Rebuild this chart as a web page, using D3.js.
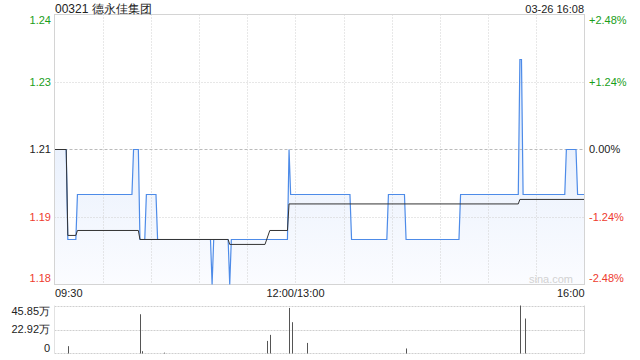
<!DOCTYPE html>
<meta charset="utf-8">
<style>
  body { margin: 0; background: #fff; }
  text { font-family: "Liberation Sans", Arial, sans-serif; }
</style>

<!-- Load d3.js -->
<script src="https://d3js.org/d3.v7.min.js"></script>

<!-- Create a div where the graph will take place -->
<div id="my_dataviz"></div>

<script>

  // ---- data ----
  var title = "00321 德永佳集团";
  var stamp = "03-26 16:08";
  var prevClose = 1.21;

  // price vertices, minute index from 09:30 (lunch break removed)
  var priceMin = [0, 7, 8, 13, 14, 48, 49, 52, 53, 56, 57, 63, 64, 97, 98, 99, 108, 109, 110,
                  145, 146, 147, 184, 185, 207, 208, 218, 219, 252, 253, 289, 290, 291, 292,
                  318, 319, 325, 326, 330];
  var priceVal = [1.21, 1.21, 1.19, 1.19, 1.20, 1.20, 1.21, 1.21, 1.19, 1.19, 1.20, 1.20, 1.19, 1.19, 1.18, 1.19, 1.19, 1.18, 1.19,
                  1.19, 1.21, 1.20, 1.20, 1.19, 1.19, 1.20, 1.20, 1.19, 1.19, 1.20, 1.20, 1.23, 1.23, 1.20,
                  1.20, 1.21, 1.21, 1.20, 1.20];

  // average price line
  var avgMin = [0, 7, 8, 13, 14, 52, 53, 108, 109, 131, 134, 145, 146, 289, 290, 330];
  var avgVal = [1.21, 1.21, 1.1909, 1.1909, 1.1920, 1.1920, 1.1900, 1.1900, 1.1889, 1.1889,
                1.1920, 1.1920, 1.1979, 1.1979, 1.1989, 1.1989];

  // volume bars
  var volMin = [8, 53, 54, 68, 132, 134, 146, 148, 157, 219, 290, 293];
  var volVal = [70000, 375000, 22000, 8000, 120000, 178000, 435000, 299000, 101000, 48000, 458500, 334000];

  // axis ticks
  var pctTicks = [2.48, 1.24, 0, -1.24, -2.48];
  var priceLabels = ["1.24", "1.23", "1.21", "1.19", "1.18"];
  var pctLabels = ["+2.48%", "+1.24%", "0.00%", "-1.24%", "-2.48%"];
  var timeTicks = [0, 150, 330];
  var timeLabels = ["09:30", "12:00/13:00", "16:00"];
  var volTicks = [458500, 229250, 0];
  var volLabels = ["45.85万", "22.92万", "0"];

  // ---- layout ----
  var W = 640, H = 360;
  var pLeft = 54.5, pRight = 584.5, pTop = 14.5, pBottom = 284.5;
  var vTop = 305.5, vBottom = 353.5;
  var green = "#1a9e1a", red = "#ee3b2e", ink = "#222";

  var svg = d3.select("#my_dataviz")
    .append("svg")
      .attr("width", W)
      .attr("height", H)

  var x = d3.scaleLinear().domain([0, 330]).range([55, 584])
  var y = d3.scaleLinear()
    .domain([prevClose * (1 - 0.0248), prevClose * (1 + 0.0248)])
    .range([pBottom, pTop])
  var yv = d3.scaleLinear().domain([0, 458500]).range([vBottom, vTop])

  function tickColor(p) { return p > 0 ? green : (p < 0 ? red : ink) }
  function crisp(v) { return Math.round(v) + 0.5 }

  // gradient for the area under the price line
  var grad = svg.append("defs").append("linearGradient")
    .attr("id", "fill").attr("gradientUnits", "userSpaceOnUse")
    .attr("x1", 0).attr("x2", 0).attr("y1", pTop).attr("y2", pBottom)
  grad.append("stop").attr("offset", "0%").attr("stop-color", "#d9e6fa")
  grad.append("stop").attr("offset", "100%").attr("stop-color", "#fbfcff")

  var pricePts = priceMin.map(function (m, i) { return [m, priceVal[i]] })
  var avgPts = avgMin.map(function (m, i) { return [m, avgVal[i]] })

  svg.append("path")
    .datum(pricePts)
    .attr("fill", "url(#fill)")
    .attr("d", d3.area()
      .x(function (d) { return x(d[0]) })
      .y0(pBottom)
      .y1(function (d) { return y(d[1]) }))

  // vertical grid (every 30 minutes)
  var grid = svg.append("g")
  d3.range(30, 330, 30).forEach(function (m) {
    grid.append("line")
      .attr("x1", crisp(x(m))).attr("x2", crisp(x(m)))
      .attr("y1", pTop).attr("y2", pBottom)
      .attr("stroke", "#d0d0d0").attr("stroke-dasharray", "1,2")
  })

  // horizontal grid
  pctTicks.slice(1, 4).forEach(function (p) {
    var yy = crisp(y(prevClose * (1 + p / 100)))
    grid.append("line")
      .attr("x1", pLeft).attr("x2", pRight)
      .attr("y1", yy).attr("y2", yy)
      .attr("stroke", p == 0 ? "#bbb" : "#cfcfcf").attr("stroke-dasharray", p == 0 ? "3,2" : "1,2")
  })

  // frame
  svg.append("rect")
    .attr("x", pLeft).attr("y", pTop)
    .attr("width", pRight - pLeft).attr("height", pBottom - pTop)
    .attr("fill", "none").attr("stroke", "#d4d4d4")

  // watermark
  svg.append("text")
    .attr("x", 573).attr("y", 283)
    .attr("text-anchor", "end")
    .attr("font-size", 11)
    .attr("fill", "#d2d2d2")
    .text("sina.com")

  // lines
  svg.append("path")
    .datum(pricePts)
    .attr("fill", "none")
    .attr("stroke", "#4d8be8")
    .attr("stroke-width", 1.2)
    .attr("d", d3.line().x(function (d) { return x(d[0]) }).y(function (d) { return y(d[1]) }))

  svg.append("path")
    .datum(avgPts)
    .attr("fill", "none")
    .attr("stroke", "#333")
    .attr("stroke-width", 1)
    .attr("d", d3.line().x(function (d) { return x(d[0]) }).y(function (d) { return y(d[1]) }))

  // price / percent labels
  pctTicks.forEach(function (p, i) {
    var yy = y(prevClose * (1 + p / 100))
    if (i == 0) yy += 6
    if (i == pctTicks.length - 1) yy -= 6
    svg.append("text")
      .attr("x", 51).attr("y", yy).attr("dy", "0.35em")
      .attr("text-anchor", "end").attr("font-size", 11)
      .attr("fill", tickColor(p))
      .text(priceLabels[i])
    svg.append("text")
      .attr("x", 589).attr("y", yy).attr("dy", "0.35em")
      .attr("font-size", 11)
      .attr("fill", tickColor(p))
      .text(pctLabels[i])
  })

  // time labels
  timeTicks.forEach(function (t, i) {
    svg.append("text")
      .attr("x", i == 0 ? 55 : (i == timeTicks.length - 1 ? 584.5 : x(t)))
      .attr("y", 293).attr("dy", "0.35em")
      .attr("text-anchor", i == 0 ? "start" : (i == timeTicks.length - 1 ? "end" : "middle"))
      .attr("font-size", 11).attr("fill", ink)
      .text(timeLabels[i])
  })

  // title + time stamp
  svg.append("text")
    .attr("x", 55).attr("y", 13)
    .attr("font-size", 12).attr("fill", ink)
    .text(title)
  svg.append("text")
    .attr("x", 584).attr("y", 13)
    .attr("text-anchor", "end")
    .attr("font-size", 11).attr("fill", ink)
    .text(stamp)

  // ---- volume panel ----
  volTicks.forEach(function (v, i) {
    var yy = crisp(yv(v)) - (i == volTicks.length - 1 ? 1 : 0)
    svg.append("line")
      .attr("x1", pLeft).attr("x2", pRight)
      .attr("y1", yy).attr("y2", yy)
      .attr("stroke", "#cfcfcf").attr("stroke-dasharray", "2,1")
    var ly = yv(v) + (i == 0 ? 6 : (i == volTicks.length - 1 ? -5.5 : 0))
    svg.append("text")
      .attr("x", 50).attr("y", ly).attr("dy", "0.35em")
      .attr("text-anchor", "end").attr("font-size", 11).attr("fill", ink)
      .text(volLabels[i])
  })
  svg.append("line")
    .attr("x1", pLeft).attr("x2", pLeft).attr("y1", vTop).attr("y2", vBottom)
    .attr("stroke", "#e2e2e2")
  svg.append("line")
    .attr("x1", pRight).attr("x2", pRight).attr("y1", vTop).attr("y2", vBottom)
    .attr("stroke", "#d4d4d4")

  svg.append("g")
    .selectAll("line")
    .data(volMin)
    .enter()
    .append("line")
      .attr("x1", function (m) { return crisp(x(m)) })
      .attr("x2", function (m) { return crisp(x(m)) })
      .attr("y1", vBottom)
      .attr("y2", function (m, i) { return yv(volVal[i]) })
      .attr("stroke", "#555")
      .attr("stroke-width", 1)

</script>
